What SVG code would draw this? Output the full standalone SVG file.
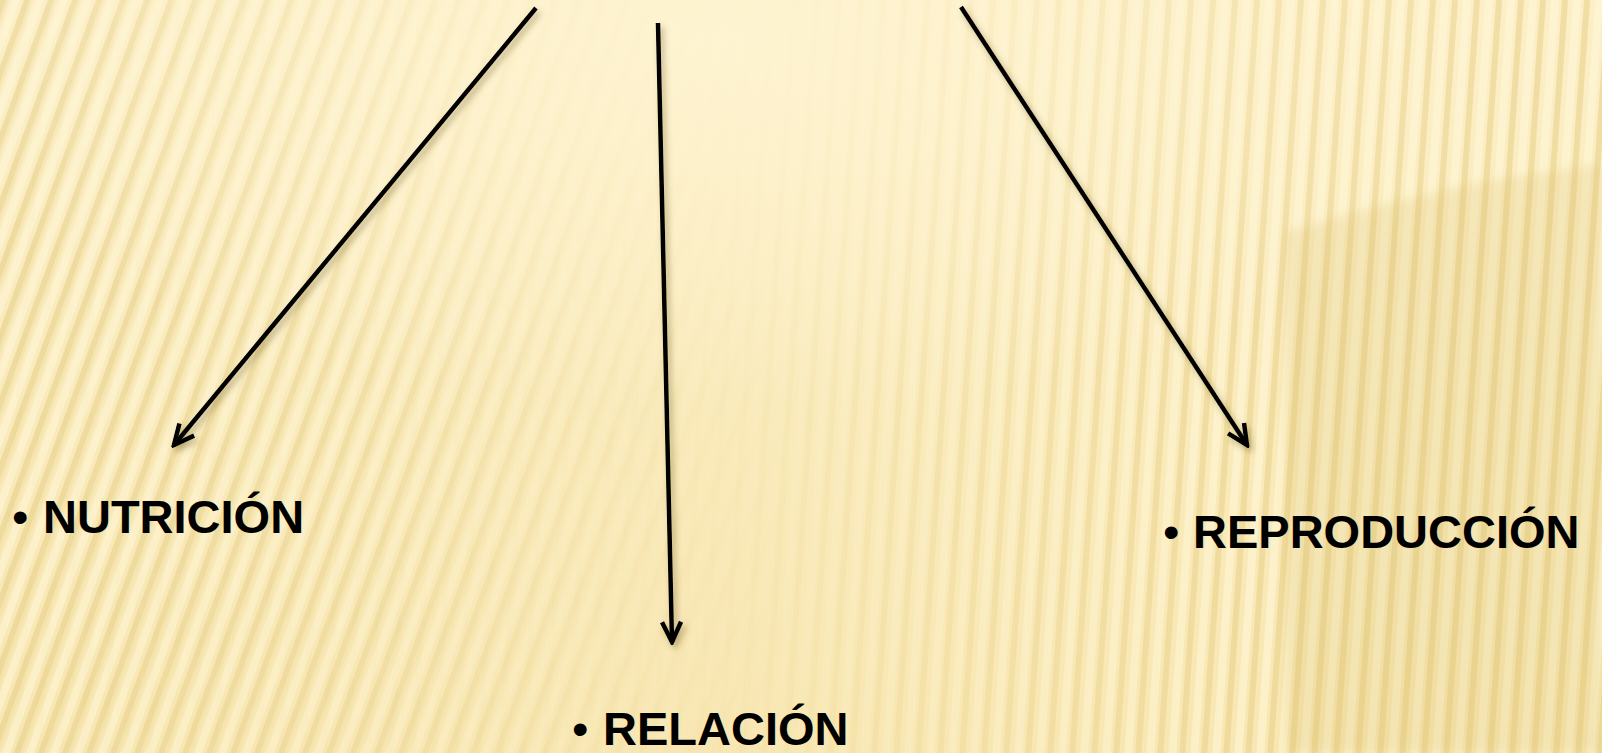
<svg xmlns="http://www.w3.org/2000/svg" width="1602" height="753" viewBox="0 0 1602 753">
  <style>
    .lbl { font-family: "Liberation Sans", Arial, sans-serif; font-weight: bold; font-size: 47px; fill: #000; }
    .bul { font-weight: normal; }
    .conn { stroke: #000; stroke-width: 4.5; fill: none; stroke-linecap: butt; }
  </style>
  <defs>
    <linearGradient id="bg" x1="0" y1="0" x2="0" y2="1">
      <stop offset="0" stop-color="#FCEFC6"/>
      <stop offset="1" stop-color="#F8E7B2"/>
    </linearGradient>
    <pattern id="stripesL" width="24" height="40" patternUnits="userSpaceOnUse" patternTransform="skewX(-20)">
      <rect x="0" y="0" width="6" height="40" fill="#E6CF88" opacity="0.6"/>
      <rect x="6" y="0" width="3" height="40" fill="#EEDC9E" opacity="0.4"/>
      <rect x="12" y="0" width="8" height="40" fill="#FFF7DA" opacity="0.55"/>
    </pattern>
    <pattern id="stripesR" width="22" height="40" patternUnits="userSpaceOnUse" patternTransform="skewX(-4)">
      <rect x="0" y="0" width="6" height="40" fill="#E6CF88" opacity="0.55"/>
      <rect x="11" y="0" width="8" height="40" fill="#FFF7DA" opacity="0.55"/>
    </pattern>
    <linearGradient id="fadeL" x1="0" y1="0" x2="1" y2="0">
      <stop offset="0" stop-color="#fff" stop-opacity="1"/>
      <stop offset="0.22" stop-color="#fff" stop-opacity="0.7"/>
      <stop offset="0.4" stop-color="#fff" stop-opacity="0.15"/>
      <stop offset="0.5" stop-color="#fff" stop-opacity="0"/>
    </linearGradient>
    <linearGradient id="fadeR" x1="0" y1="0" x2="1" y2="0">
      <stop offset="0.45" stop-color="#fff" stop-opacity="0.05"/>
      <stop offset="0.62" stop-color="#fff" stop-opacity="0.6"/>
      <stop offset="0.78" stop-color="#fff" stop-opacity="1"/>
    </linearGradient>
    <radialGradient id="glow" cx="0.45" cy="0.05" r="0.5">
      <stop offset="0" stop-color="#FFF4D2" stop-opacity="0.9"/>
      <stop offset="1" stop-color="#FFF4D2" stop-opacity="0"/>
    </radialGradient>
    <mask id="mL"><rect width="1602" height="753" fill="url(#fadeL)"/></mask>
    <mask id="mR"><rect width="1602" height="753" fill="url(#fadeR)"/></mask>
    <marker id="arr" viewBox="0 0 26 24" refX="23" refY="12" markerWidth="26" markerHeight="24" markerUnits="userSpaceOnUse" orient="auto">
      <path d="M3,2.5 L23,12 L3,21.5" fill="none" stroke="#000" stroke-width="4.5" stroke-linejoin="miter"/>
    </marker>
    <filter id="sh" x="-20%" y="-20%" width="140%" height="140%">
      <feDropShadow dx="3" dy="4" stdDeviation="3" flood-color="#6b5a20" flood-opacity="0.45"/>
    </filter>
    <filter id="blur"><feGaussianBlur stdDeviation="5"/></filter>
  </defs>

  <g id="background">
    <rect width="1602" height="753" fill="url(#bg)"/>
    <rect width="1602" height="753" fill="url(#stripesL)" mask="url(#mL)"/>
    <rect width="1602" height="753" fill="url(#stripesR)" mask="url(#mR)"/>
    <rect width="1602" height="753" fill="url(#glow)"/>
    <path d="M1285,232 L1380,205 L1480,182 L1602,164 L1602,753 L1285,753 Z" fill="#D6B860" opacity="0.2" filter="url(#blur)"/>
  </g>

  <g id="connectors" filter="url(#sh)">
    <path class="conn" d="M536,8 L174,445" marker-end="url(#arr)"/>
    <path class="conn" d="M658,23 L672,642" marker-end="url(#arr)"/>
    <path class="conn" d="M961,7 L1247,445" marker-end="url(#arr)"/>
  </g>

  <g id="node-nutricion">
    <text class="lbl" x="12" y="533"><tspan class="bul">•</tspan><tspan x="43">NUTRICIÓN</tspan></text>
  </g>
  <g id="node-relacion">
    <text class="lbl" x="572" y="745"><tspan class="bul">•</tspan><tspan x="603">RELACIÓN</tspan></text>
  </g>
  <g id="node-reproduccion">
    <text class="lbl" x="1163" y="548"><tspan class="bul">•</tspan><tspan x="1193">REPRODUCCIÓN</tspan></text>
  </g>
</svg>
